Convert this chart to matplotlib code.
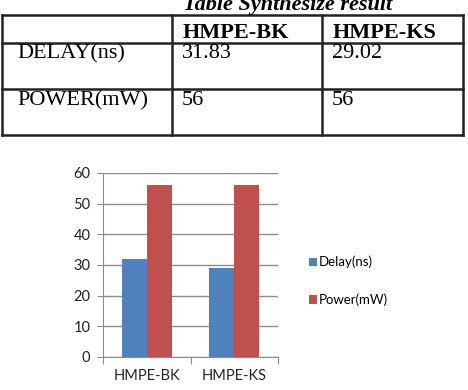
import matplotlib.pyplot as plt
import numpy as np

# data
designs = ["HMPE-BK", "HMPE-KS"]
delay_ns = [31.83, 29.02]
power_mw = [56, 56]
table_rows = ["DELAY(ns)", "POWER(mW)"]
y_ticks = [0, 10, 20, 30, 40, 50, 60]

BLUE = "#4F81BD"
RED = "#C0504D"
GRID = "#8C8C8C"

W, H = 468, 390
fig = plt.figure(figsize=(W / 100, H / 100), dpi=100)
fig.patch.set_facecolor("white")

# overlay in pixel coordinates for the table part
page = fig.add_axes([0, 0, 1, 1])
page.set_xlim(0, W)
page.set_ylim(H, 0)
page.axis("off")

serif = "Liberation Serif"
page.text(288, 10, "Table Synthesize result", family=serif, fontsize=16,
          fontweight="bold", style="italic", ha="center", va="baseline")

col_x = [2, 172, 322, 463]
row_y = [15, 43, 89, 135]
for x in col_x:
    page.plot([x, x], [row_y[0], row_y[-1]], color="#222222", lw=1.8)
for y in row_y:
    page.plot([col_x[0], col_x[-1]], [y, y], color="#222222", lw=1.8)

header_base = 38.5
for i, name in enumerate(designs):
    page.text(col_x[i + 1] + 11, header_base, name, family=serif, fontsize=16,
              fontweight="bold", va="baseline")

values = [delay_ns, power_mw]
row_base = [58.5, 105]
for r, label in enumerate(table_rows):
    page.text(17, row_base[r], label, family=serif, fontsize=16, va="baseline")
    for c, v in enumerate(values[r]):
        txt = f"{v:.2f}" if isinstance(v, float) else str(v)
        page.text(col_x[c + 1] + 10, row_base[r], txt, family=serif,
                  fontsize=16, va="baseline")

# bar chart
ax = fig.add_axes([103 / W, (H - 357) / H, 175 / W, (357 - 173) / H])
x = np.arange(len(designs))
bw = 0.286
ax.bar(x - bw / 2, delay_ns, bw, color=BLUE, label="Delay(ns)", zorder=3)
ax.bar(x + bw / 2, power_mw, bw, color=RED, label="Power(mW)", zorder=3)

ax.set_xlim(-0.5, len(designs) - 0.5)
ax.set_ylim(0, 60)
ax.set_yticks(y_ticks)
ax.yaxis.grid(True, color=GRID, lw=1, zorder=0)
for s in ("top", "right"):
    ax.spines[s].set_visible(False)
for s in ("left", "bottom"):
    ax.spines[s].set_color(GRID)

ax.set_xticks(np.arange(len(designs) + 1) - 0.5)
ax.set_xticklabels([])
ax.set_xticks(x, minor=True)
ax.set_xticklabels(designs, minor=True)
ax.tick_params(axis="x", which="major", length=5, color=GRID, direction="out")
ax.tick_params(axis="x", which="minor", length=0, pad=9)
ax.tick_params(axis="y", length=4, color=GRID, pad=5)

sans = "Lato"
for lab in ax.get_yticklabels() + ax.get_xticklabels(minor=True):
    lab.set_family(sans)
    lab.set_fontsize(10.5)
    lab.set_color("#222222")

ax.legend(loc="center left", bbox_to_anchor=(304 / W, (H - 281) / H),
          bbox_transform=fig.transFigure, frameon=False,
          prop={"family": sans, "size": 9.5}, handlelength=0.55,
          handleheight=0.6, handletextpad=0.15, labelspacing=1.9,
          borderaxespad=0)

fig.savefig("out.png", dpi=100)
